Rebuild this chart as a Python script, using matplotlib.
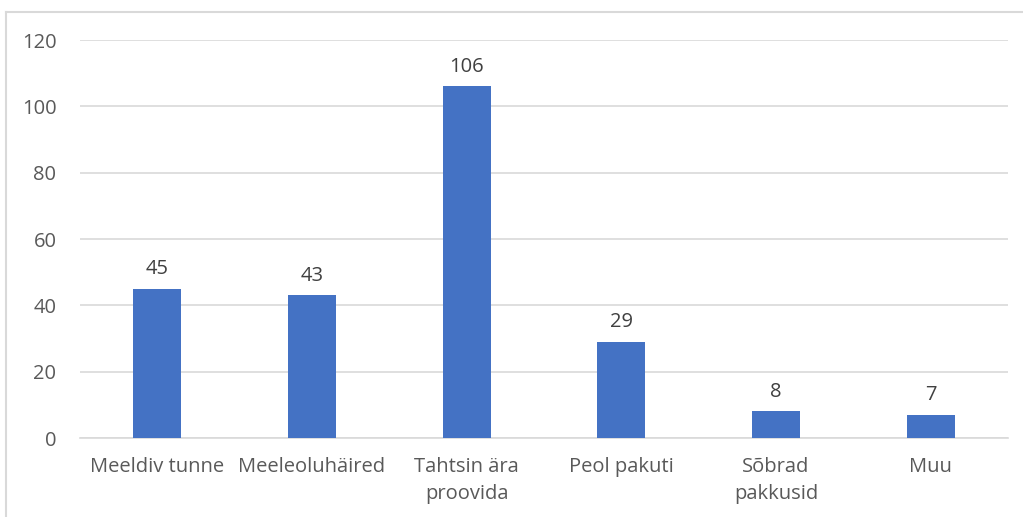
import matplotlib
matplotlib.use('Agg')
import matplotlib.pyplot as plt
from matplotlib.lines import Line2D

plt.rcParams['font.family'] = ['Open Sans', 'DejaVu Sans']

categories = ['Meeldiv tunne', 'Meeleoluhäired', 'Tahtsin ära\nproovida',
              'Peol pakuti', 'Sõbrad\npakkusid', 'Muu']
values = [45, 43, 106, 29, 8, 7]

text_color = '#595959'
bar_color = '#4472C4'
grid_color = '#D9D9D9'

fig = plt.figure(figsize=(10.23, 5.17), dpi=100)
ax = fig.add_axes([80/1023, 1 - 438/517, 928/1023, 398/517])

x = range(len(categories))
bars = ax.bar(x, values, width=0.31, color=bar_color, zorder=3)
for b, v in zip(bars, values):
    ax.annotate(str(v), (b.get_x() + b.get_width()/2, v), xytext=(0, 7),
                textcoords='offset points', ha='center', va='bottom',
                fontsize=14.5, color='#404040')

ax.set_xlim(-0.5, len(categories) - 0.5)
ax.set_ylim(0, 120)
ax.set_yticks(range(0, 121, 20))
ax.yaxis.grid(True, color=grid_color, linewidth=1.2, zorder=0)
ax.set_xticks(list(x))
ax.set_xticklabels(categories, fontsize=14.5, color=text_color, linespacing=1.45)
ax.tick_params(axis='y', labelsize=14.5, labelcolor=text_color, length=0, pad=17)
ax.tick_params(axis='x', length=0, pad=14)
for s in ['top', 'right', 'left']:
    ax.spines[s].set_visible(False)
ax.spines['bottom'].set_color(grid_color)
ax.spines['bottom'].set_linewidth(1.2)

# chart frame (top and left edges visible)
fig.add_artist(Line2D([5.5/1023, 1], [1 - 12/517, 1 - 12/517], color=grid_color, linewidth=1.5))
fig.add_artist(Line2D([5.5/1023, 5.5/1023], [0, 1 - 12/517], color=grid_color, linewidth=1.5))

fig.savefig('out.png', dpi=100)
